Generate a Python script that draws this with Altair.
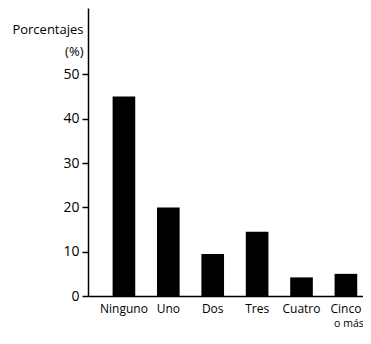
import altair as alt
import pandas as pd

categorias = ["Ninguno", "Uno", "Dos", "Tres", "Cuatro", "Cinco o más"]
etiqueta_linea1 = ["Ninguno", "Uno", "Dos", "Tres", "Cuatro", "Cinco"]
etiqueta_linea2 = ["", "", "", "", "", "o más"]
porcentajes = [45, 20, 9.5, 14.5, 4.2, 5.0]
ticks_y = [0, 10, 20, 30, 40, 50]

df = pd.DataFrame({"cat": categorias, "l1": etiqueta_linea1, "l2": etiqueta_linea2,
                   "pct": porcentajes})

FONT = "Open Sans"
H = 288

xenc = alt.X("cat:N", sort=categorias, title=None,
             scale=alt.Scale(paddingInner=0.49, paddingOuter=0.342, align=0.81),
             axis=alt.Axis(labels=False, ticks=False, domainColor="black", domainWidth=1.5))

bars = alt.Chart(df).mark_bar(color="black").encode(
    x=xenc,
    y=alt.Y("pct:Q", scale=alt.Scale(domain=[0, 65], nice=False, zero=True),
            title=["Porcentajes", "(%)"],
            axis=alt.Axis(values=ticks_y, grid=False, tickSize=6, tickColor="black", tickWidth=1.5,
                          domainColor="black", domainWidth=1.5, labelPadding=3,
                          labelColor="black", labelFontSize=14, labelFont=FONT,
                          titleAngle=0, titleAlign="right", titleBaseline="middle",
                          titleX=-5, titleY=21, titleFontWeight="normal", titleFontSize=13,
                          titleFont=FONT, titleColor="black", titleLineHeight=22)),
)

lab1 = alt.Chart(df).mark_text(font=FONT, fontSize=12, color="black", baseline="middle").encode(
    x=alt.X("cat:N", sort=categorias), y=alt.value(H + 13), text="l1:N")
lab2 = alt.Chart(df).mark_text(font=FONT, fontSize=10.5, color="black", baseline="middle", dx=3).encode(
    x=alt.X("cat:N", sort=categorias), y=alt.value(H + 28), text="l2:N")

chart = alt.layer(bars, lab1, lab2).properties(
    width=275, height=H,
    autosize=alt.AutoSizeParams(type="none"),
    padding={"left": 80, "top": 0, "right": 0, "bottom": 36},
).configure_view(stroke=None)

chart.save("out.html", embed_options={"renderer": "svg", "actions": False})
